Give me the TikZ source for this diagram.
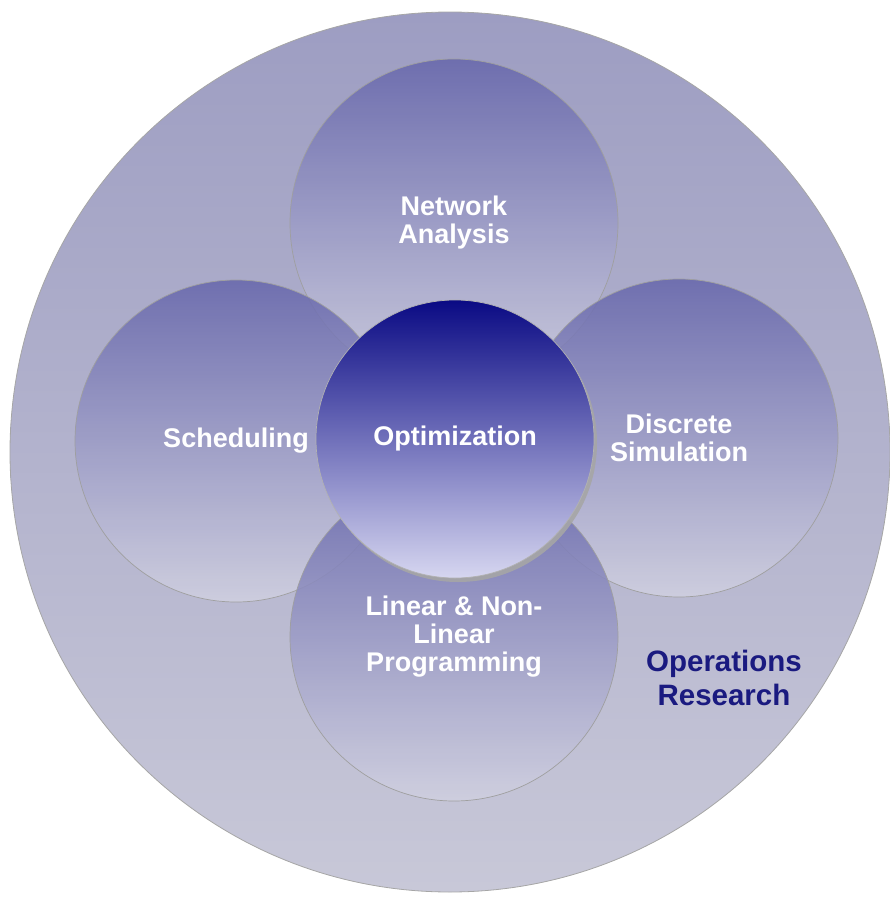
\documentclass[tikz,border=0pt]{standalone}
\usepackage{fontspec}
\setmainfont{Liberation Sans}
\usetikzlibrary{shadows}

\definecolor{ortop}{HTML}{9D9DC2}
\definecolor{orbot}{HTML}{C8C8D8}
\definecolor{areatop}{HTML}{6868AC}
\definecolor{areamid}{HTML}{8686BE}
\definecolor{areabot}{HTML}{D0D0E0}
\definecolor{coretop}{HTML}{0A0A84}
\definecolor{coremid}{HTML}{4646AE}
\definecolor{corebot}{HTML}{D6D6F0}
\definecolor{ortext}{HTML}{1A1A80}

\tikzset{
  field/.style={circle, inner sep=0pt, minimum size=880pt, draw=gray!70, line width=0.8pt,
    top color=ortop, bottom color=orbot},
  area/.style={circle, inner sep=0pt, minimum size=#1, draw=gray!75, line width=0.7pt,
    top color=areatop, middle color=areamid, bottom color=areabot, fill opacity=0.88,
    text opacity=1, text=white, align=center, font=\fontsize{27}{28}\selectfont\bfseries},
  core/.style={circle, inner sep=0pt, minimum size=278pt, draw=gray!60, line width=0.7pt,
    top color=coretop, middle color=coremid, bottom color=corebot,
    drop shadow={shadow xshift=3pt, shadow yshift=-4pt, fill=gray!70, opacity=0.9},
    text=white, font=\fontsize{27}{28}\selectfont\bfseries}
}

\begin{document}
\begin{tikzpicture}[x=1pt,y=-1pt]
  \useasboundingbox (0,0) rectangle (889,897);

  % outer field
  \node[field] (opres) at (450,452) {};

  % the four areas
  \node[area=328pt] (netw) at (454,223) {Network\\Analysis};
  \node[area=322pt] (sched) at (236,441) {Scheduling};
  \node[area=318pt] (dsim) at (679,438) {Discrete\\Simulation};
  \node[area=328pt] (lprog) at (454,637) {Linear \& Non-\\Linear\\Programming};

  % centre
  \node[core] (optim) at (455,439) {Optimization};

  \node[text=ortext, align=center, font=\fontsize{29.5}{34}\selectfont\bfseries]
    (orlabel) at (724,678) {Operations\\Research};
\end{tikzpicture}
\end{document}
